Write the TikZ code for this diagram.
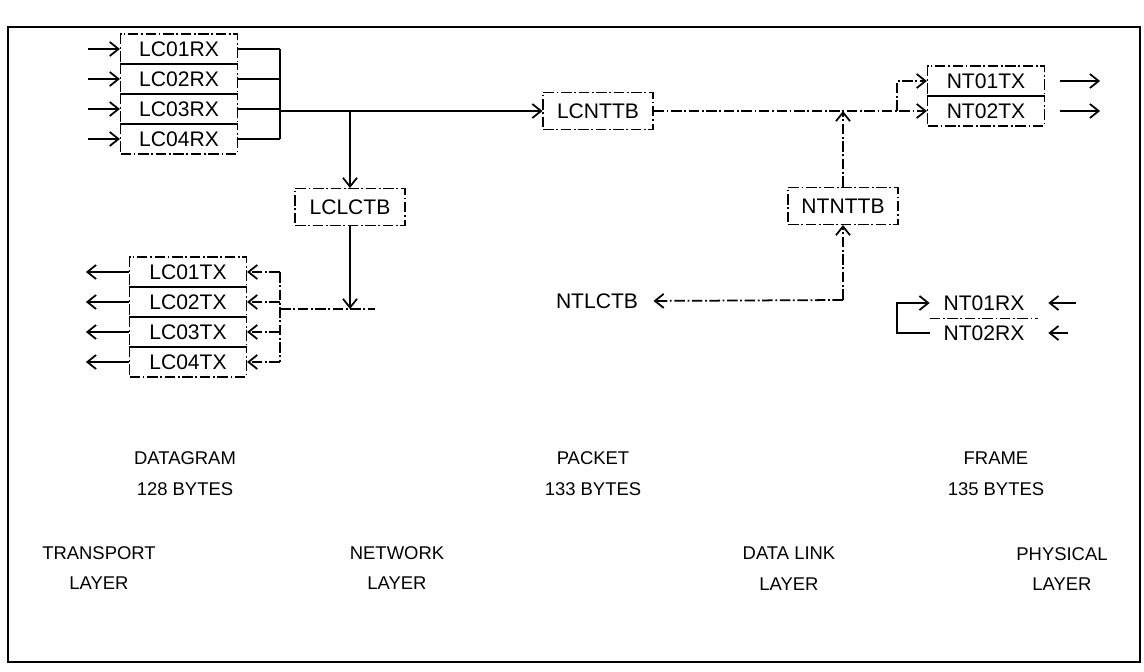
\documentclass[tikz,border=0pt]{standalone}
\usepackage{fontspec}
\setmainfont{Liberation Sans}
\usetikzlibrary{arrows.meta}

\tikzset{
    lbl/.style={font=\fontsize{12}{14}\selectfont},
    faint/.style={dash pattern=on 6pt off 1.5pt on 1pt off 1.5pt},
    flow/.style={-{Straight Barb[length=5pt,width=8pt]}},
    row/.style={lbl, draw, faint, line width=0.7pt, minimum width=2.34cm, minimum height=0.6cm},
    tbbox/.style={lbl, draw, faint, line width=0.6pt, minimum width=2.2cm, minimum height=0.74cm},
    layer/.style={align=center, font=\fontsize{10.5}{17.5}\selectfont}
}

\begin{document}
\begin{tikzpicture}[x=0.02cm, y=-0.02cm, line width=1pt]
    \useasboundingbox (0,0) rectangle (1144,672);
    \draw[line width=0.8pt] (8,27) rectangle (1140,662);

    \coordinate (rxbus) at (280,111);
    \coordinate (lcj) at (350,111);
    \coordinate (txbus) at (280,309);
    \coordinate (txend) at (375,309);
    \coordinate (ntj) at (843,111);
    \coordinate (ntb) at (897,111);
    \coordinate (ntsrc) at (843,300);

    \foreach \n/\y in {1/49,2/79,3/109,4/139} {
        \node[row] (lc0\n rx) at (179,\y) {LC0\n RX};
        \draw[flow] ([xshift=-0.64cm]lc0\n rx.west) -- (lc0\n rx.west);
        \draw (lc0\n rx.east) -- (lc0\n rx.east -| rxbus);
    }
    \draw (lc01rx.east -| rxbus) -- (lc04rx.east -| rxbus);

    \foreach \n/\y in {1/272,2/302,3/332,4/362} {
        \node[row] (lc0\n tx) at (188,\y) {LC0\n TX};
        \draw[flow] (lc0\n tx.west) -- ++(-43,0);
        \draw[flow, faint] (lc0\n tx.east -| txbus) -- (lc0\n tx.east);
    }
    \draw[faint] (lc01tx.east -| txbus) -- (lc04tx.east -| txbus);
    \draw[faint] (txbus) -- (txend);

    \node[tbbox] (lcnttb) at (598,111) {LCNTTB};
    \node[tbbox] (lclctb) at (350,207) {LCLCTB};
    \node[tbbox] (ntnttb) at (843,206) {NTNTTB};
    \node[lbl] (ntlctb) at (597,301) {NTLCTB};

    \draw[flow] (rxbus) -- (lcnttb.west);
    \draw[flow] (lcj) -- (lclctb.north);
    \draw[flow] (lclctb.south) -- (lclctb.south |- txbus);

    \node[row] (nt01tx) at (986,81) {NT01TX};
    \node[row] (nt02tx) at (986,111) {NT02TX};
    \draw[flow, faint] (lcnttb.east) -- (nt02tx.west);
    \draw[flow, faint] (ntb) |- (nt01tx.west);
    \draw[flow] ([xshift=0.3cm]nt01tx.east) -- ++(40,0);
    \draw[flow] ([xshift=0.3cm]nt02tx.east) -- ++(40,0);

    \draw[flow, faint] (ntnttb.north) -- (ntj);
    \draw[flow, faint] (ntsrc) -- (ntnttb.south);
    \draw[flow, faint, shorten >=5pt] (ntsrc) -- (ntlctb.east);

    \node[lbl, minimum width=2.14cm, minimum height=0.6cm] (nt01rx) at (984,303) {NT01RX};
    \node[lbl, minimum width=2.14cm, minimum height=0.6cm] (nt02rx) at (984,333) {NT02RX};
    \draw[faint, line width=0.7pt] (nt01rx.south west) -- (nt01rx.south east);
    \draw[flow] (nt02rx.west) -- ++(-33,0) |- (nt01rx.west);
    \draw[flow] ([xshift=0.76cm]nt01rx.east) -- ([xshift=0.2cm]nt01rx.east);
    \draw[flow] ([xshift=0.6cm]nt02rx.east) -- ([xshift=0.2cm]nt02rx.east);

    \node[layer] (datagram) at (185,474) {DATAGRAM\\128 BYTES};
    \node[layer] (packet) at (593,474) {PACKET\\133 BYTES};
    \node[layer] (frame) at (996,474) {FRAME\\135 BYTES};

    \node[layer] (transport) at (99,568) {TRANSPORT\\LAYER};
    \node[layer] (network) at (397,568) {NETWORK\\LAYER};
    \node[layer] (datalink) at (789,569) {DATA LINK\\LAYER};
    \node[layer] (physical) at (1062,569) {PHYSICAL\\LAYER};
\end{tikzpicture}
\end{document}
